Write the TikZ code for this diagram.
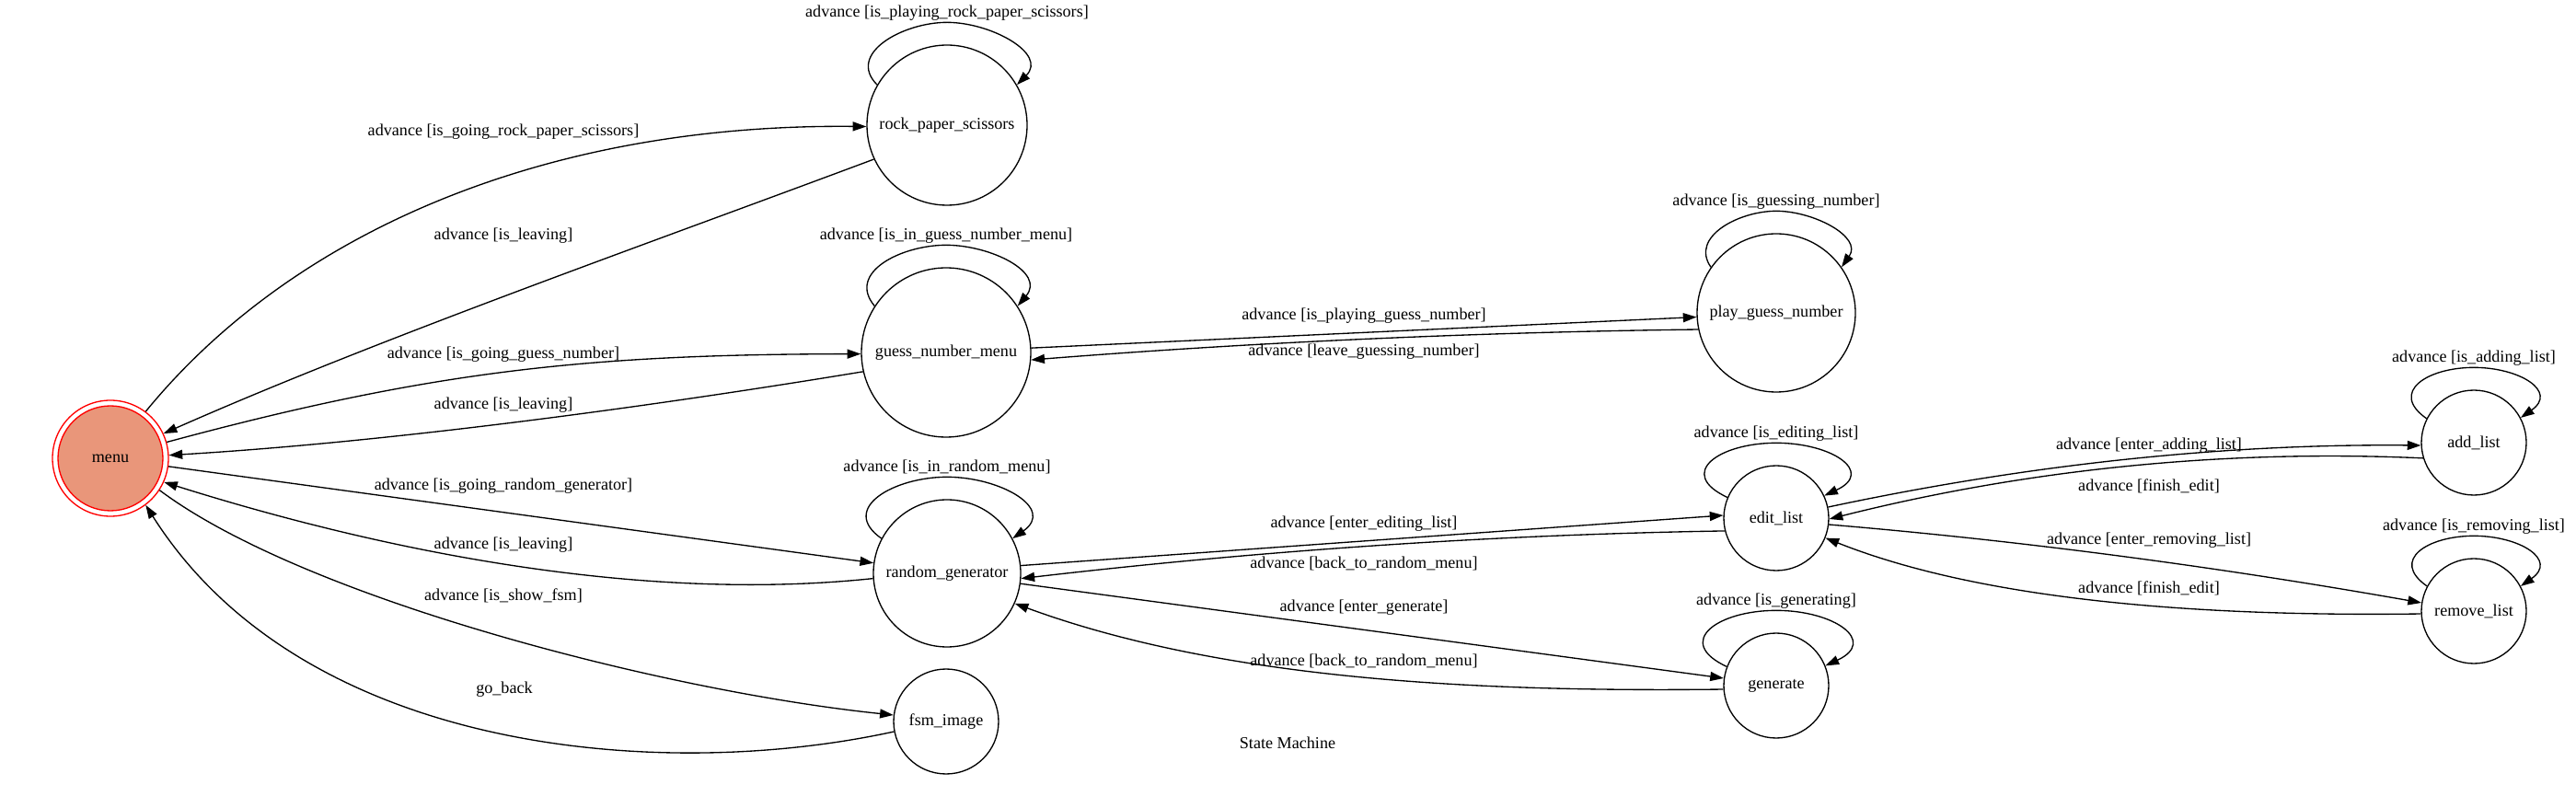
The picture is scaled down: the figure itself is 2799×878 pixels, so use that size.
\documentclass[tikz,border=0pt]{standalone}
\usepackage{fontspec}
\setmainfont{Liberation Serif}
\usetikzlibrary{arrows.meta,calc}
\definecolor{darksalmon}{HTML}{E9967A}
\newcommand\selfloop[7]{% node, start, end, out, in, looseness, label
  \coordinate (#1top) at ($(#1.north)+(0,24)$);
  \draw[edge] (#1.#2) to[out=#4,in=180,looseness=#6] (#1top) to[out=0,in=#5,looseness=#6] (#1.#3);
  \node[lbl] (#1looplbl) at ($(#1top)+(0,10.5)$) {#7};
}
\begin{document}
\begin{tikzpicture}[x=0.75pt,y=0.75pt,
  every node/.style={font=\fontsize{13.6}{16}\selectfont},
  state/.style={circle,draw,line width=1pt,inner sep=0pt},
  edge/.style={line width=1pt,-{Triangle[length=11pt,width=7.5pt]}},
  lbl/.style={inner sep=0pt}]
\useasboundingbox (0,0) rectangle (2799,878);
% states
\node[state,draw=red,minimum size=94.5pt] (menu) at (120,380) {};
\node[state,draw=red,fill=darksalmon,minimum size=85.5pt] (menuin) at (menu.center) {menu};
\node[state,minimum size=130.5pt] (rps) at (1029,742) {rock\_paper\_scissors};
\node[state,minimum size=138pt] (gnm) at (1028,495) {guess\_number\_menu};
\node[state,minimum size=120pt] (rg) at (1029,255) {random\_generator};
\node[state,minimum size=85.5pt] (fsm) at (1028,94) {fsm\_image};
\node[state,minimum size=129pt] (pgn) at (1930,538) {play\_guess\_number};
\node[state,minimum size=85.5pt] (edit) at (1930,315) {edit\_list};
\node[state,minimum size=85.5pt] (gen) at (1930,133) {generate};
\node[state,minimum size=85.5pt] (add) at (2688,397) {add\_list};
\node[state,minimum size=85.5pt] (remove) at (2688,214) {remove\_list};
% self loops
\selfloop{rps}{150}{30}{135}{45}{1.2}{advance [is\_playing\_rock\_paper\_scissors]}
\selfloop{gnm}{147.5}{33}{130}{50}{1.2}{advance [is\_in\_guess\_number\_menu]}
\selfloop{rg}{152}{28}{145}{35}{1.5}{advance [is\_in\_random\_menu]}
\selfloop{pgn}{145}{35}{125}{55}{1.1}{advance [is\_guessing\_number]}
\selfloop{edit}{157}{25}{155}{25}{2.0}{advance [is\_editing\_list]}
\selfloop{gen}{159}{22}{155}{25}{2.0}{advance [is\_generating]}
\selfloop{add}{153}{28}{145}{35}{1.7}{advance [is\_adding\_list]}
\selfloop{remove}{152}{28}{145}{35}{1.7}{advance [is\_removing\_list]}
% menu edges
\draw[edge] (menu.53) .. controls (317,625) and (591,744) .. (rps.181);
\node[lbl] (l1) at (547,735) {advance [is\_going\_rock\_paper\_scissors]};
\draw[edge] (rps.205) .. controls (701,612) and (411,510) .. (menu.25);
\node[lbl] (l2) at (547,622) {advance [is\_leaving]};
\draw[edge] (menu.16) .. controls (468,475) and (639,493) .. (gnm.181);
\node[lbl] (l3) at (547,493) {advance [is\_going\_guess\_number]};
\draw[edge] (gnm.193) .. controls (688,433) and (413,397) .. (menu.3);
\node[lbl] (l4) at (547,438) {advance [is\_leaving]};
\draw[edge] (menu.-8) -- (rg.172);
\node[lbl] (l5) at (547,350) {advance [is\_going\_random\_generator]};
\draw[edge] (rg.184) .. controls (698,223) and (420,278) .. (menu.-24);
\node[lbl] (l6) at (547,286) {advance [is\_leaving]};
\draw[edge] (menu.-33) .. controls (330,228) and (721,127) .. (fsm.173);
\node[lbl] (l7) at (547,231) {advance [is\_show\_fsm]};
\draw[edge] (fsm.191) .. controls (720,28) and (330,58) .. (menu.-53);
\node[lbl] (l8) at (548,129) {go\_back};
% middle edges
\draw[edge] (gnm.3) -- (pgn.183);
\node[lbl] (l9) at (1482,535) {advance [is\_playing\_guess\_number]};
\draw[edge] (pgn.192) .. controls (1603,517) and (1362,506) .. (gnm.-5);
\node[lbl] (l10) at (1482,496) {advance [leave\_guessing\_number]};
\draw[edge] (rg.6) -- (edit.177);
\node[lbl] (l11) at (1482,309) {advance [enter\_editing\_list]};
\draw[edge] (edit.194) .. controls (1618,297) and (1364,279) .. (rg.-4);
\node[lbl] (l12) at (1482,266) {advance [back\_to\_random\_menu]};
\draw[edge] (rg.-8) -- (gen.172);
\node[lbl] (l13) at (1482,218) {advance [enter\_generate]};
\draw[edge] (gen.184) .. controls (1612,126) and (1332,138) .. (rg.-24);
\node[lbl] (l14) at (1482,160) {advance [back\_to\_random\_menu]};
% right edges
\draw[edge] (edit.12) .. controls (2202,373) and (2416,396) .. (add.183);
\node[lbl] (l15) at (2335,394) {advance [enter\_adding\_list]};
\draw[edge] (add.197) .. controls (2417,390) and (2202,368) .. (edit.-1);
\node[lbl] (l16) at (2335,350) {advance [finish\_edit]};
\draw[edge] (edit.-7) .. controls (2202,290) and (2416,261) .. (remove.171);
\node[lbl] (l17) at (2335,291) {advance [enter\_removing\_list]};
\draw[edge] (remove.183) .. controls (2411,208) and (2163,222) .. (edit.-22);
\node[lbl] (l18) at (2335,239) {advance [finish\_edit]};
% title
\node[lbl] (title) at (1399,71) {State Machine};
\end{tikzpicture}
\end{document}
